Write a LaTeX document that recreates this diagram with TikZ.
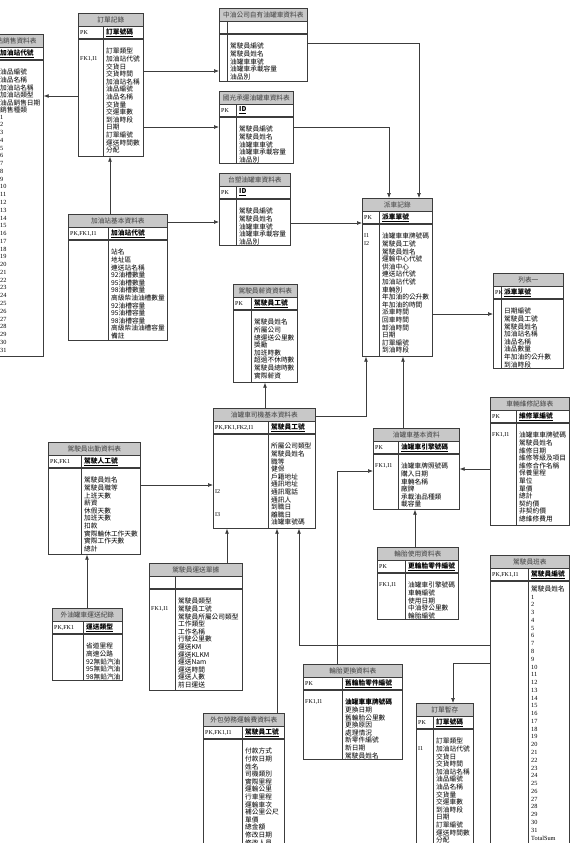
\documentclass[tikz,border=0pt]{standalone}
\usepackage{fontspec}
\setmainfont{Liberation Serif}
\newfontfamily\cjk{Noto Sans CJK TC}
\usepackage{tikz}
\usetikzlibrary{arrows.meta, calc}
\definecolor{boxgray}{HTML}{3C3C3C}
\definecolor{headgray}{HTML}{C8C8C8}

\tikzset{
  entbox/.style={rectangle, draw=boxgray, fill=white, line width=0.7pt, inner sep=0pt, anchor=north west},
  boxline/.style={draw=boxgray, line width=0.7pt},
  headtext/.style={font=\cjk\fontsize{6.7}{7}\selectfont, text=black!75, inner sep=0pt},
  keytext/.style={font=\fontsize{6}{7}\selectfont, inner sep=0pt, anchor=west},
  pktext/.style={font=\cjk\bfseries\fontsize{6.7}{7}\selectfont, inner sep=0pt, anchor=west},
  attrtext/.style={font=\cjk\fontsize{6.7}{7.6}\selectfont, inner sep=0pt, anchor=north west, align=left},
  numtext/.style={font=\fontsize{6.3}{7}\selectfont, inner sep=0pt, anchor=west},
  rel/.style={draw=boxgray, line width=0.7pt, -{Latex[length=5pt,width=4pt]}}
}

% table: name, x, y, width, height, divider, title
\newcommand{\enttable}[7]{%
  \node[entbox, minimum width=#4pt, minimum height=#5pt] (#1) at (#2,#3) {};
  \fill[headgray] (#1.north west) rectangle ([yshift=-13pt]#1.north east);
  \draw[boxline] ([yshift=-13pt]#1.north west) -- ([yshift=-13pt]#1.north east);
  \draw[boxline, line width=1.3pt] ([yshift=-26pt]#1.north west) -- ([yshift=-26pt]#1.north east);
  \coordinate (#1-div) at ([xshift=#6pt]#1.north west);
  \draw[boxline] ([yshift=-13pt]#1-div) -- (#1-div |- #1.south);
  \draw[boxline] (#1.north west) rectangle (#1.south east);
  \node[headtext] (#1-title) at ([yshift=-6.5pt]#1.north) {#7};
}
% key row: name, left text, key field
\newcommand{\entkey}[3]{%
  \node[keytext] (#1-key) at ([shift={(2pt,-19.5pt)}]#1.north west) {#2};
  \node[pktext] (#1-pk) at ([shift={(3pt,-19.5pt)}]#1-div) {\underline{#3}};
}
% fields
\newcommand{\entattr}[2]{%
  \node[attrtext] (#1-attr) at ([shift={(3pt,-35pt)}]#1-div) {#2};
}
% index column: name, line, text
\newcommand{\entfk}[3]{%
  \node[attrtext, font=\fontsize{6}{7}\selectfont] (#1-fk#2) at ([shift={(2pt,{-35.8pt-(#2-1)*7.6pt})}]#1.north west) {#3};
}

\begin{document}
\begin{tikzpicture}[x=1pt, y=-1pt]
\fill[white] (0,0) rectangle (570,843);
\useasboundingbox (0,0) rectangle (570,843);
\clip (0,0) rectangle (570,843);

% upper left
\enttable{sales}{-24}{34}{67}{322}{21}{加油站銷售資料表}
\entkey{sales}{PK}{加油站代號}
\entattr{sales}{油品編號\\油品名稱\\加油站名稱\\加油站類型\\油品銷售日期\\銷售種類}
\foreach \i [evaluate=\i as \yy using 117+(\i-1)*7.77] in {1,...,31}
  \node[numtext] (sales-n\i) at (0,\yy) {\i};

\enttable{order}{78}{13}{65}{143}{25}{訂單記錄}
\entkey{order}{PK}{訂單號碼}
\entfk{order}{2}{FK1,I1}
\entattr{order}{訂單類型\\加油站代號\\交貨日\\交貨時間\\加油站名稱\\油品編號\\油品名稱\\交貨量\\交運車數\\到油時段\\日期\\訂單編號\\運送時間數\\分配}

\enttable{station}{68}{214}{99}{126}{40}{加油站基本資料表}
\entkey{station}{PK,FK1,I1}{加油站代號}
\entattr{station}{站名\\地址區\\連送站名稱\\92油槽數量\\95油槽數量\\98油槽數量\\高級柴油油槽數量\\92油槽容量\\95油槽容量\\98油槽容量\\高級柴油油槽容量\\備註}

% tank truck tables
\enttable{cpc}{219}{8}{88}{73}{8}{中油公司自有油罐車資料表}
\entkey{cpc}{}{}
\entattr{cpc}{駕駛員編號\\駕駛員姓名\\油罐車車號\\油罐車承載容量\\油品別}

\enttable{kk}{219}{91}{74}{72}{17}{國光承運油罐車資料表}
\entkey{kk}{PK}{ID}
\entattr{kk}{駕駛員編號\\駕駛員姓名\\油罐車車號\\油罐車承載容量\\油品別}

\enttable{tp}{219}{173}{71}{72}{17}{台塑油罐車資料表}
\entkey{tp}{PK}{ID}
\entattr{tp}{駕駛員編號\\駕駛員姓名\\油罐車車號\\油罐車承載容量\\油品別}

\enttable{dispatch}{362}{198}{70}{158}{17}{派車記錄}
\entkey{dispatch}{PK}{派車單號}
\entfk{dispatch}{1}{I1}
\entfk{dispatch}{2}{I2}
\entattr{dispatch}{油罐車車牌號碼\\駕駛員工號\\駕駛員姓名\\運輸中心代號\\供油中心\\連送站代號\\加油站代號\\車輛別\\年加油的公升數\\年加油的時間\\派車時間\\回車時間\\卸油時間\\日期\\訂單編號\\到油時段}

\enttable{list1}{493}{273}{70}{95}{8}{列表一}
\entkey{list1}{PK}{派車單號}
\entattr{list1}{日期編號\\駕駛員工號\\駕駛員姓名\\加油站名稱\\油品名稱\\油品數量\\年加油的公升數\\到油時段}

% drivers
\enttable{salary}{233}{284}{64}{98}{18}{駕駛員薪資資料表}
\entkey{salary}{PK}{駕駛員工號}
\entattr{salary}{駕駛員姓名\\所屬公司\\總運送公里數\\獎勵\\加班時數\\超過不休時數\\駕駛員總時數\\實際薪資}

\enttable{driver}{213}{408}{102}{120}{55}{油罐車司機基本資料表}
\entkey{driver}{PK,FK1,FK2,I1}{駕駛員工號}
\entfk{driver}{7}{I2}
\entfk{driver}{10}{I3}
\entattr{driver}{所屬公司類型\\駕駛員姓名\\職等\\健保\\戶籍地址\\通訊地址\\通訊電話\\通訊人\\到職日\\離職日\\油罐車號碼}

\enttable{attend}{48}{442}{92}{112}{33}{駕駛員出勤資料表}
\entkey{attend}{PK,FK1}{駕駛人工號}
\entattr{attend}{駕駛員姓名\\駕駛員職等\\上班天數\\薪資\\休假天數\\加班天數\\扣款\\實際輪休工作天數\\實際工作天數\\總計}

\enttable{ext}{52}{608}{70}{72}{31}{外油罐車運送紀錄}
\entkey{ext}{PK,FK1}{運送類型}
\entattr{ext}{省道里程\\高速公路\\92無鉛汽油\\95無鉛汽油\\98無鉛汽油}

\enttable{trip}{149}{563}{93}{127}{26}{駕駛員運送單據}
\entkey{trip}{}{}
\entfk{trip}{2}{FK1,I1}
\entattr{trip}{駕駛員類型\\駕駛員工號\\駕駛員所屬公司類型\\工作類型\\工作名稱\\行駛公里數\\運送KM\\運送KLKM\\運送Nam\\運送時間\\運送人數\\前日運送}

\enttable{outsource}{203}{713}{81}{140}{39}{外包勞務運輸費資料表}
\entkey{outsource}{PK,FK1,I1}{駕駛員工號}
\entattr{outsource}{付款方式\\付款日期\\姓名\\司機類別\\實際里程\\運輸公里\\行車里程\\運輸車次\\補公里公尺\\單價\\總金額\\修改日期\\修改人員}

% vehicles
\enttable{truck}{373}{428}{86}{81}{25}{油罐車基本資料}
\entkey{truck}{PK}{油罐車引擎號碼}
\entfk{truck}{1}{FK1,I1}
\entattr{truck}{油罐車牌照號碼\\購入日期\\車輛名稱\\廠牌\\承載油品種類\\載容量}

\enttable{repair}{490}{397}{79}{128}{26}{車輛維修記錄表}
\entkey{repair}{PK}{維修單編號}
\entfk{repair}{1}{FK1,I1}
\entattr{repair}{油罐車車牌號碼\\駕駛員姓名\\維修日期\\維修等級及項目\\維修合作名稱\\保養里程\\單位\\單價\\總計\\契約價\\非契約價\\總維修費用}

\enttable{tireuse}{377}{547}{81}{72}{28}{輪胎使用資料表}
\entkey{tireuse}{PK}{更輪胎零件編號}
\entfk{tireuse}{1}{FK1,I1}
\entattr{tireuse}{油罐車引擎號碼\\車輛編號\\使用日期\\中油發公里數\\輪胎編號}

\enttable{tirechg}{303}{664}{99}{95}{39}{輪胎更換資料表}
\entkey{tirechg}{PK}{舊輪胎零件編號}
\entfk{tirechg}{1}{FK1,I1}
\entattr{tirechg}{\textbf{油罐車車牌號碼}\\更換日期\\舊輪胎公里數\\更換原因\\處理情況\\新零件編號\\新日期\\駕駛員姓名}

\enttable{stock}{416}{703}{57}{150}{17}{訂單暫存}
\entkey{stock}{PK}{訂單號碼}
\entfk{stock}{2}{I1}
\entattr{stock}{訂單類型\\加油站代號\\交貨日\\交貨時間\\加油站名稱\\油品編號\\油品名稱\\交貨量\\交運車數\\到油時段\\日期\\訂單編號\\運送時間數\\分配}

\enttable{shift}{490}{555}{79}{300}{38}{駕駛員班表}
\entkey{shift}{PK,FK1,I1}{駕駛員編號}
\node[attrtext, anchor=west] (shift-name) at (531,589) {駕駛員姓名};
\foreach \i [evaluate=\i as \yy using 597+(\i-1)*7.77] in {1,...,31}
  \node[numtext] (shift-n\i) at (531,\yy) {\i};
\node[numtext] (shift-sum) at (531,838) {TotalSum};

% relations
\draw[rel] (order.west |- 0,96) -- (sales.east |- 0,96);
\draw[rel] (order.east |- 0,71) -- (cpc.west |- 0,71);
\draw[rel] (order.east |- 0,127) -- (kk.west |- 0,127);
\draw[rel] (cpc.east |- 0,43) -| (dispatch.north -| 419,0);
\draw[rel] (kk.east |- 0,127) -| (dispatch.north -| 389,0);
\draw[rel] (station.north -| 110,0) -- (order.south -| 110,0);
\draw[rel] (station.east |- 0,222) -- (tp.west |- 0,222);
\draw[rel] (tp.east |- 0,223) -- (dispatch.west |- 0,223);
\draw[rel] (dispatch.east |- 0,314) -- (list1.west |- 0,314);
\draw[rel] (driver.east |- 0,416) -| (dispatch.south -| 366,0);
\draw[rel] (driver.north -| 265,0) -- (salary.south -| 265,0);
\draw[rel] (truck.north -| 403,0) -- (dispatch.south -| 403,0);
\draw[rel] (repair.west |- 0,469) -- (truck.east |- 0,469);
\draw[rel] (tireuse.north -| 415,0) -- (truck.south -| 415,0);
\draw[rel] (attend.east |- 0,485) -- (driver.west |- 0,485);
\draw[rel] (ext.north -| 87,0) -- (attend.south -| 87,0);
\draw[rel] (trip.north -| 227,0) -- (driver.south -| 227,0);
\draw[rel] (outsource.north -| 277,0) -- (driver.south -| 277,0);
\draw[rel] (shift.west |- 0,645) -| (driver.south -| 299,0);
\draw[rel] (tirechg.north -| 337,0) |- (truck.west |- 0,471);
\draw[rel] (shift.west |- 0,663) -| (stock.north -| 453,0);
\end{tikzpicture}
\end{document}
